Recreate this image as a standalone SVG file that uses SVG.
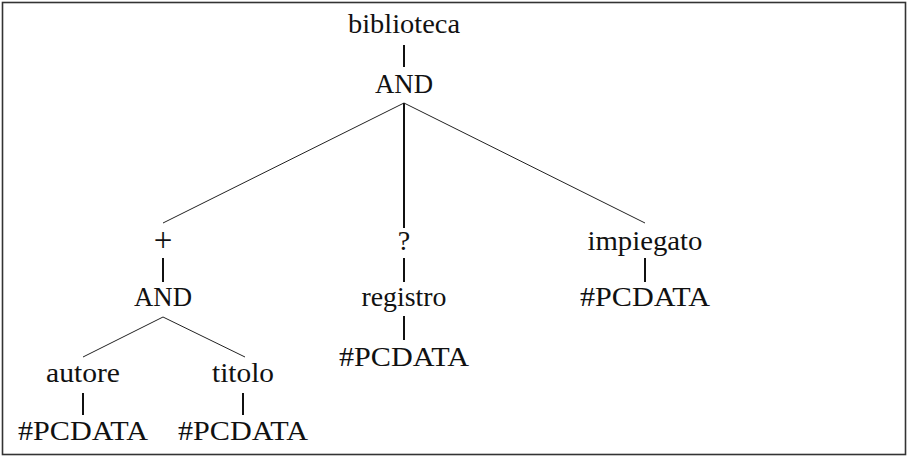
<svg xmlns="http://www.w3.org/2000/svg" width="910" height="459" viewBox="0 0 910 459">
<style>
text{font-family:"Liberation Serif","DejaVu Serif",serif;font-size:28px;fill:#111;text-anchor:middle}
.v{stroke:#111;stroke-width:2}
.d{stroke:#222;stroke-width:1}
</style>
<rect x="0" y="0" width="910" height="459" fill="#fff"/>
<rect x="2.5" y="2.5" width="903" height="452" fill="none" stroke="#333" stroke-width="1.6"/>
<g id="connectors">
<line class="v" x1="404" y1="45" x2="404" y2="67"/>
<line class="d" x1="404" y1="103" x2="163" y2="223"/>
<line class="v" x1="404" y1="103" x2="404" y2="228"/>
<line class="d" x1="404" y1="103" x2="645" y2="223"/>
<line class="v" x1="163" y1="258" x2="163" y2="282"/>
<line class="v" x1="404" y1="258" x2="404" y2="282"/>
<line class="v" x1="645" y1="258" x2="645" y2="282"/>
<line class="v" x1="404" y1="316" x2="404" y2="340"/>
<line class="d" x1="163" y1="317" x2="83" y2="357"/>
<line class="d" x1="163" y1="317" x2="245" y2="357"/>
<line class="v" x1="83" y1="393" x2="83" y2="415"/>
<line class="v" x1="243" y1="393" x2="243" y2="415"/>
</g>
<g id="n-biblioteca"><text x="404" y="33" textLength="112" lengthAdjust="spacingAndGlyphs">biblioteca</text></g>
<g id="n-and1"><text x="404" y="93" textLength="58" lengthAdjust="spacingAndGlyphs">AND</text></g>
<g id="n-plus"><text x="163" y="251" style="font-size:33px">+</text></g>
<g id="n-q"><text x="404" y="250">?</text></g>
<g id="n-impiegato"><text x="645" y="250" textLength="115" lengthAdjust="spacingAndGlyphs">impiegato</text></g>
<g id="n-and2"><text x="163" y="306" textLength="58" lengthAdjust="spacingAndGlyphs">AND</text></g>
<g id="n-registro"><text x="404" y="306" textLength="85" lengthAdjust="spacingAndGlyphs">registro</text></g>
<g id="n-pc-imp"><text x="645" y="306" textLength="130" lengthAdjust="spacingAndGlyphs">#PCDATA</text></g>
<g id="n-pc-reg"><text x="404" y="366" textLength="130" lengthAdjust="spacingAndGlyphs">#PCDATA</text></g>
<g id="n-autore"><text x="83" y="382" textLength="74" lengthAdjust="spacingAndGlyphs">autore</text></g>
<g id="n-titolo"><text x="243" y="382" textLength="62" lengthAdjust="spacingAndGlyphs">titolo</text></g>
<g id="n-pc-aut"><text x="83" y="440" textLength="130" lengthAdjust="spacingAndGlyphs">#PCDATA</text></g>
<g id="n-pc-tit"><text x="243" y="440" textLength="130" lengthAdjust="spacingAndGlyphs">#PCDATA</text></g>
</svg>
